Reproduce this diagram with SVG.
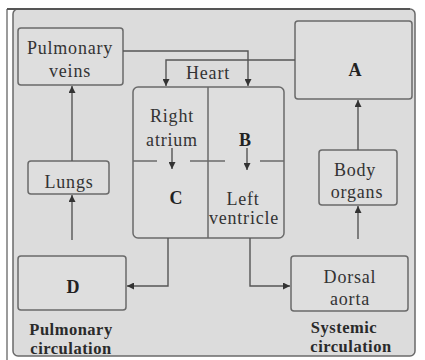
<svg xmlns="http://www.w3.org/2000/svg" width="425" height="360" viewBox="0 0 425 360">
  <style>
    .box { fill: #dedede; stroke: #6a6a6a; stroke-width: 1.5; }
    .wire { fill: none; stroke: #555; stroke-width: 1.4; }
    .lbl { font-family: "Liberation Serif", "Times New Roman", serif; font-size: 18px; letter-spacing: 0.8px; fill: #333; text-anchor: middle; }
    .key { font-family: "Liberation Serif", "Times New Roman", serif; font-size: 18px; font-weight: bold; fill: #222; text-anchor: middle; }
    .cap { font-family: "Liberation Serif", "Times New Roman", serif; font-size: 16.5px; font-weight: bold; letter-spacing: 0.5px; fill: #2a2a2a; text-anchor: middle; }
  </style>
  <defs>
    <marker id="arrow" viewBox="0 0 10 10" refX="10" refY="5" markerWidth="8" markerHeight="7" markerUnits="userSpaceOnUse" orient="auto">
      <path d="M0,0 L10,5 L0,10 Z" fill="#333"/>
    </marker>
  </defs>

  <rect x="0" y="0" width="425" height="360" fill="#ffffff"/>

  <!-- outer frame -->
  <g id="frame">
    <rect x="13" y="9" width="402" height="347" rx="5" fill="#dcdcdc" stroke="#6a6a6a" stroke-width="1.5"/>
    <line x1="7" y1="9" x2="7" y2="360" stroke="#7a7a7a" stroke-width="1.5"/>
    <line x1="7" y1="9" x2="410" y2="9" stroke="#555" stroke-width="2"/>
  </g>

  <!-- nodes -->
  <g id="pulmonary-veins">
    <rect class="box" x="18" y="28" width="105" height="57" rx="3"/>
    <text class="lbl" x="70" y="54">Pulmonary</text>
    <text class="lbl" x="70" y="77">veins</text>
  </g>

  <g id="lungs">
    <rect class="box" x="28" y="161" width="81" height="33" rx="3"/>
    <text class="lbl" x="69" y="188">Lungs</text>
  </g>

  <g id="node-d">
    <rect class="box" x="18" y="256" width="108" height="54" rx="3"/>
    <text class="key" x="73" y="293">D</text>
  </g>

  <g id="heart">
    <text class="lbl" x="208" y="79">Heart</text>
    <rect class="box" x="133" y="87" width="151" height="151" rx="5" fill="#dadada"/>
    <line x1="208" y1="87" x2="208" y2="238" stroke="#6a6a6a" stroke-width="1.5"/>
    <g stroke="#6a6a6a" stroke-width="1.5">
      <line x1="133" y1="161" x2="157" y2="161"/>
      <line x1="190" y1="161" x2="225" y2="161"/>
      <line x1="260" y1="161" x2="284" y2="161"/>
    </g>
    <text class="lbl" x="172" y="122">Right</text>
    <text class="lbl" x="172" y="146">atrium</text>
    <text class="key" x="245" y="146">B</text>
    <text class="key" x="176" y="204">C</text>
    <text class="lbl" x="243" y="205">Left</text>
    <text class="lbl" x="244" y="224">ventricle</text>
    <path class="wire" d="M172,148 V169" marker-end="url(#arrow)"/>
    <path class="wire" d="M247,148 V170" marker-end="url(#arrow)"/>
  </g>

  <g id="node-a">
    <rect class="box" x="295" y="21" width="117" height="78" rx="3"/>
    <text class="key" x="355" y="76">A</text>
  </g>

  <g id="body-organs">
    <rect class="box" x="319" y="150" width="78" height="55" rx="3"/>
    <text class="lbl" x="355" y="176">Body</text>
    <text class="lbl" x="357" y="198">organs</text>
  </g>

  <g id="dorsal-aorta">
    <rect class="box" x="291" y="256" width="117" height="55" rx="3"/>
    <text class="lbl" x="350" y="283">Dorsal</text>
    <text class="lbl" x="350" y="305">aorta</text>
  </g>

  <!-- circulation captions -->
  <g id="captions">
    <text class="cap" x="71" y="335">Pulmonary</text>
    <text class="cap" x="71" y="354">circulation</text>
    <text class="cap" x="344" y="333">Systemic</text>
    <text class="cap" x="351" y="352">circulation</text>
  </g>

  <!-- connectors -->
  <g id="connectors">
    <path class="wire" d="M123,51 H248 V86" marker-end="url(#arrow)"/>
    <path class="wire" d="M295,60 H166 V86" marker-end="url(#arrow)"/>
    <path class="wire" d="M72,161 V86" marker-end="url(#arrow)"/>
    <path class="wire" d="M72,240 V195" marker-end="url(#arrow)"/>
    <path class="wire" d="M168,238 V286 H127" marker-end="url(#arrow)"/>
    <path class="wire" d="M250,238 V286 H290" marker-end="url(#arrow)"/>
    <path class="wire" d="M358,239 V206" marker-end="url(#arrow)"/>
    <path class="wire" d="M358,150 V100" marker-end="url(#arrow)"/>
  </g>
</svg>
